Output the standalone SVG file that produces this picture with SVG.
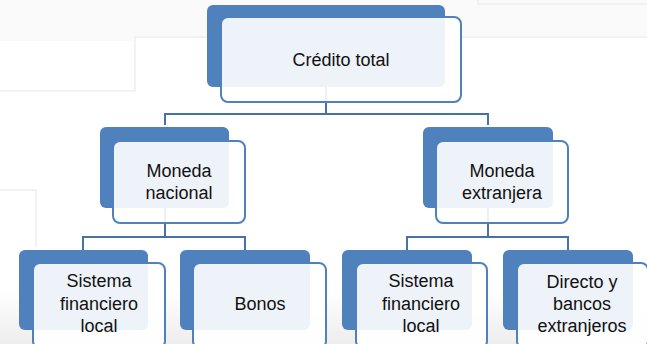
<svg xmlns="http://www.w3.org/2000/svg" width="647" height="344" viewBox="0 0 647 344">
<style>
.bg{fill:none;stroke:#EEEEEE;stroke-width:1.5}
.dk{fill:#4F81BD}
.lt{fill:#FFFFFF;fill-opacity:0.9;stroke:#4F81BD;stroke-width:2}
.cn{fill:none;stroke:#4672AC;stroke-width:2}
text{font-family:"Liberation Sans",Arial,sans-serif;font-size:18px;fill:#111111;text-anchor:middle}
</style>
<defs>
<linearGradient id="fade" x1="0" y1="0" x2="0" y2="1">
<stop offset="0" stop-color="#FFFFFF"/>
<stop offset="1" stop-color="#EDEDED"/>
</linearGradient>
</defs>
<rect width="647" height="344" fill="#FFFFFF"/>
<g id="background">
<path d="M0 0H647V37H135V41H0Z" fill="#FAFAFA"/>
<path class="bg" d="M135 37H647M135 37V91H0"/>
<path class="bg" d="M478 0V4H647"/>
<path class="bg" d="M0 190H36V247"/>
<rect x="0" y="290" width="647" height="54" fill="url(#fade)"/>
</g>
<g id="connectors">
<path class="cn" d="M326 87V114M165 125V114H488V125"/>
<path class="cn" d="M165 208V237M83 250V237H245V250"/>
<path class="cn" d="M488 208V237M407 250V237H568V250"/>
</g>
<g id="credito-total">
<rect class="dk" x="207" y="5" width="238" height="82" rx="6"/>
<rect class="lt" x="221" y="17" width="240" height="85" rx="7"/>
<text x="341" y="66">Crédito total</text>
</g>
<g id="moneda-nacional">
<rect class="dk" x="100" y="127" width="129" height="81" rx="6"/>
<rect class="lt" x="113" y="141" width="132" height="82" rx="7"/>
<text x="179" y="177">Moneda</text>
<text x="179" y="199">nacional</text>
</g>
<g id="moneda-extranjera">
<rect class="dk" x="423" y="127" width="130" height="81" rx="6"/>
<rect class="lt" x="436" y="141" width="132" height="82" rx="7"/>
<text x="502" y="177">Moneda</text>
<text x="502" y="199">extranjera</text>
</g>
<g id="sistema-financiero-local-1">
<rect class="dk" x="19" y="250" width="129" height="80" rx="6"/>
<rect class="lt" x="33" y="263" width="132" height="85" rx="7"/>
<text x="99" y="287">Sistema</text>
<text x="99" y="310">financiero</text>
<text x="99" y="332">local</text>
</g>
<g id="bonos">
<rect class="dk" x="180" y="250" width="130" height="80" rx="6"/>
<rect class="lt" x="193" y="263" width="133" height="85" rx="7"/>
<text x="260" y="310">Bonos</text>
</g>
<g id="sistema-financiero-local-2">
<rect class="dk" x="342" y="250" width="130" height="80" rx="6"/>
<rect class="lt" x="356" y="263" width="131" height="85" rx="7"/>
<text x="421" y="287">Sistema</text>
<text x="421" y="310">financiero</text>
<text x="421" y="332">local</text>
</g>
<g id="directo-y-bancos-extranjeros">
<rect class="dk" x="503" y="250" width="130" height="80" rx="6"/>
<rect class="lt" x="517" y="263" width="131" height="85" rx="7"/>
<text x="582" y="288">Directo y</text>
<text x="582" y="310">bancos</text>
<text x="582" y="332">extranjeros</text>
</g>
</svg>
